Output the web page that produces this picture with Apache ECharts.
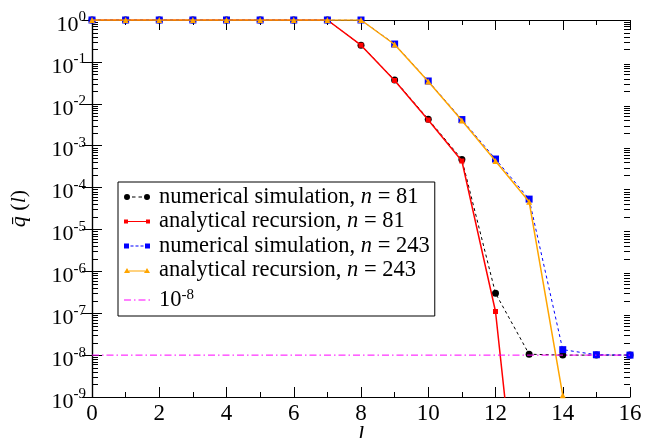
<!DOCTYPE html>
<html>
<head>
<meta charset="utf-8">
<script src="https://cdn.jsdelivr.net/npm/echarts@6/dist/echarts.min.js"></script>
<style>html,body{margin:0;padding:0;background:#fff;}#c{width:653px;height:438px;}</style>
</head>
<body>
<div id="c"></div>
<script>
// ---- data ----
const lValues = [0,1,2,3,4,5,6,7,8,9,10,11,12,13,14,15,16];
const simN81 = [1,1,1,1,1,1,1,1,0.25,0.037,0.0043,4.7e-4,3.0e-7,1.05e-8,1.0e-8,1.0e-8,1.0e-8];
const recN81 = [1,1,1,1,1,1,1,1,0.25,0.036,0.0041,4.3e-4,1.1e-7,4e-15];
const simN243 = [1,1,1,1,1,1,1,1,1,0.267,0.035,0.0042,4.8e-4,5.3e-5,1.35e-8,1.02e-8,1.0e-8];
const recN243 = [1,1,1,1,1,1,1,1,1,0.26,0.034,0.0040,4.3e-4,4.6e-5,1.1e-9];
const refLevel = 1e-8;
const xTickLabels = [0,2,4,6,8,10,12,14,16];
const yDecades = [-9,-8,-7,-6,-5,-4,-3,-2,-1,0];

const FONT = '"Liberation Serif","Times New Roman",serif';
const FS = 22.5;
const xMin = 0, xMax = 16;

function pairs(vals){ return vals.map((v,i)=>[lValues[i], v]); }

// log minor tick positions (axis decoration)
const minorTickData = [];
for (let i = 0; i < yDecades.length - 1; i++) {
  for (let k = 2; k <= 9; k++) minorTickData.push([xMin, k * Math.pow(10, yDecades[i])]);
}

const legendNames = {
  sim81: 'numerical simulation, {i|n} = 81',
  rec81: 'analytical recursion, {i|n} = 81',
  sim243: 'numerical simulation, {i|n} = 243',
  rec243: 'analytical recursion, {i|n} = 243',
  ref: '{b|10}{s|-8}'
};

const icons = {
  sim81: 'path://M0,4 A3,3 0 1,0 6,4 A3,3 0 1,0 0,4 Z M20,4 A3,3 0 1,0 26,4 A3,3 0 1,0 20,4 Z M8,3.5 H11.5 V4.5 H8 Z M14.5,3.5 H18 V4.5 H14.5 Z',
  rec81: 'path://M0,2 H4 V6 H0 Z M22,2 H26 V6 H22 Z M4,3.4 H22 V4.6 H4 Z',
  sim243: 'path://M0,1.5 H5 V6.5 H0 Z M21,1.5 H26 V6.5 H21 Z M6.5,3.5 H9.5 V4.5 H6.5 Z M11.5,3.5 H14.5 V4.5 H11.5 Z M16.5,3.5 H19.5 V4.5 H16.5 Z',
  rec243: 'path://M0,6.5 L3,1.5 L6,6.5 Z M20,6.5 L23,1.5 L26,6.5 Z M5,4 H21 V5 H5 Z',
  ref: 'path://M0,3.5 H7 V4.5 H0 Z M10,3.5 H11.5 V4.5 H10 Z M14.5,3.5 H21.5 V4.5 H14.5 Z M24.5,3.5 H26 V4.5 H24.5 Z'
};

const chart = echarts.init(document.getElementById('c'), null, {renderer:'canvas'});

const axisLine = {show:true, lineStyle:{color:'#000', width:1.2}};
const tickStyle = {color:'#000', width:1};

const option = {
  animation: false,
  backgroundColor: '#fff',
  grid: {left: 92, right: 23, top: 20, bottom: 41, containLabel: false, outerBoundsMode: 'none'},
  legend: {
    orient: 'vertical',
    left: 118, top: 182,
    padding: [3, 5, 4, 6],
    itemGap: 0.5,
    itemWidth: 26, itemHeight: 6,
    backgroundColor: '#fff',
    borderColor: '#000', borderWidth: 1,
    data: [
      {name:'sim81', icon: icons.sim81},
      {name:'rec81', icon: icons.rec81},
      {name:'sim243', icon: icons.sim243},
      {name:'rec243', icon: icons.rec243},
      {name:'ref', icon: icons.ref}
    ],
    formatter: name => legendNames[name],
    textStyle: {
      fontFamily: FONT, fontSize: FS, color: '#000', lineHeight: 24, padding: [0,0,0,4],
      rich: {
        i: {fontFamily: FONT, fontSize: FS, fontStyle: 'italic', color:'#000', lineHeight: 24},
        b: {fontFamily: FONT, fontSize: FS, color:'#000', lineHeight: 24, padding:[6,0,0,0], verticalAlign:'bottom'},
        s: {fontFamily: FONT, fontSize: 15, color:'#000', lineHeight: 15, verticalAlign: 'top'}
      }
    },
    selectedMode: false
  },
  xAxis: [{
    type: 'value', min: xMin, max: xMax, interval: 2,
    position: 'bottom',
    axisLine: axisLine,
    axisTick: {show:true, inside:true, length:10, lineStyle: tickStyle},
    minorTick: {show:true, splitNumber:2, length:5, lineStyle: tickStyle},
    splitLine: {show:false},
    axisLabel: {
      fontFamily: FONT, fontSize: 23, color:'#000', margin: 5,
      formatter: v => (xTickLabels.indexOf(v) >= 0 ? String(v) : '')
    },
    name: 'l', nameLocation: 'middle', nameGap: 27, nameMoveOverlap: false,
    nameTextStyle: {fontFamily: FONT, fontSize: 23, fontStyle:'italic', color:'#000', verticalAlign: 'top'}
  }, {
    type: 'value', min: xMin, max: xMax, interval: 2,
    position: 'top',
    axisLine: axisLine,
    axisTick: {show:true, inside:true, length:10, lineStyle: tickStyle},
    minorTick: {show:true, splitNumber:2, length:5, lineStyle: tickStyle},
    splitLine: {show:false},
    axisLabel: {show:false}
  }],
  yAxis: [{
    type: 'log', logBase: 10, min: 1e-9, max: 1, interval: 1, splitNumber: 9,
    position: 'left',
    axisLine: axisLine,
    axisTick: {show:true, inside:true, length:10, lineStyle: tickStyle},
    splitLine: {show:false},
    axisLabel: {
      margin: 6,
      padding: [10, 0, 0, 0],
      formatter: v => '{b|10}{s|' + Math.round(Math.log10(v)) + '}',
      rich: {
        b: {fontFamily: FONT, fontSize: 22, color:'#000', lineHeight: 30},
        s: {fontFamily: FONT, fontSize: 15, color:'#000', lineHeight: 8, verticalAlign:'top'}
      }
    },
    name: '{q|q\u0304}{t| (}{i|l}{t|)}', nameLocation: 'middle', nameGap: 62, nameRotate: 90,
    nameMoveOverlap: false,
    nameTextStyle: {
      rich: {
        q: {fontFamily: FONT, fontSize: 22, fontStyle:'italic', color:'#000'},
        i: {fontFamily: FONT, fontSize: 22, fontStyle:'italic', color:'#000'},
        t: {fontFamily: FONT, fontSize: 22, color:'#000'}
      }
    }
  }, {
    type: 'log', logBase: 10, min: 1e-9, max: 1, interval: 1, splitNumber: 9,
    position: 'right',
    axisLine: axisLine,
    axisTick: {show:true, inside:true, length:10, lineStyle: tickStyle},
    splitLine: {show:false},
    axisLabel: {show:false}
  }],
  series: [
    {
      type: 'custom', name: 'minorTicks', silent: true, z: 1,
      xAxisIndex: 0, yAxisIndex: 0,
      data: minorTickData,
      clip: false,
      renderItem: function(params, api){
        const v = api.value(1);
        const pL = api.coord([xMin, v]);
        const pR = api.coord([xMax, v]);
        const y = Math.round(pL[1]) + 0.5;
        return {type:'group', children:[
          {type:'line', shape:{x1:pL[0], y1:y, x2:pL[0]+6, y2:y}, style:{stroke:'#000', lineWidth:1}},
          {type:'line', shape:{x1:pR[0]-6, y1:y, x2:pR[0], y2:y}, style:{stroke:'#000', lineWidth:1}}
        ]};
      }
    },
    {
      name: 'sim81', type: 'line', data: pairs(simN81),
      symbol: 'circle', symbolSize: 7,
      itemStyle: {color:'#000'},
      lineStyle: {color:'#000', width:1, type:[3,3]},
      clip: true, z: 2
    },
    {
      name: 'rec81', type: 'line', data: pairs(recN81),
      symbol: 'rect', symbolSize: 5,
      itemStyle: {color:'#ff0000'},
      lineStyle: {color:'#ff0000', width:1.5},
      clip: true, z: 3
    },
    {
      name: 'sim243', type: 'line', data: pairs(simN243),
      symbol: 'rect', symbolSize: 7,
      itemStyle: {color:'#0000ff'},
      lineStyle: {color:'#0000ff', width:1, type:[3,3]},
      clip: true, z: 4
    },
    {
      name: 'rec243', type: 'line', data: pairs(recN243),
      symbol: 'triangle', symbolSize: 6,
      itemStyle: {color:'#ffa500'},
      lineStyle: {color:'#ffa500', width:1.5},
      clip: true, z: 5
    },
    {
      name: 'ref', type: 'line', data: [[xMin, refLevel], [xMax, refLevel]],
      symbol: 'none',
      itemStyle: {color:'#ff00ff'},
      lineStyle: {color:'#ff00ff', width:1, type:[7,3,1.5,3]},
      clip: true, z: 6
    }
  ]
};
chart.setOption(option);
</script>
</body>
</html>
